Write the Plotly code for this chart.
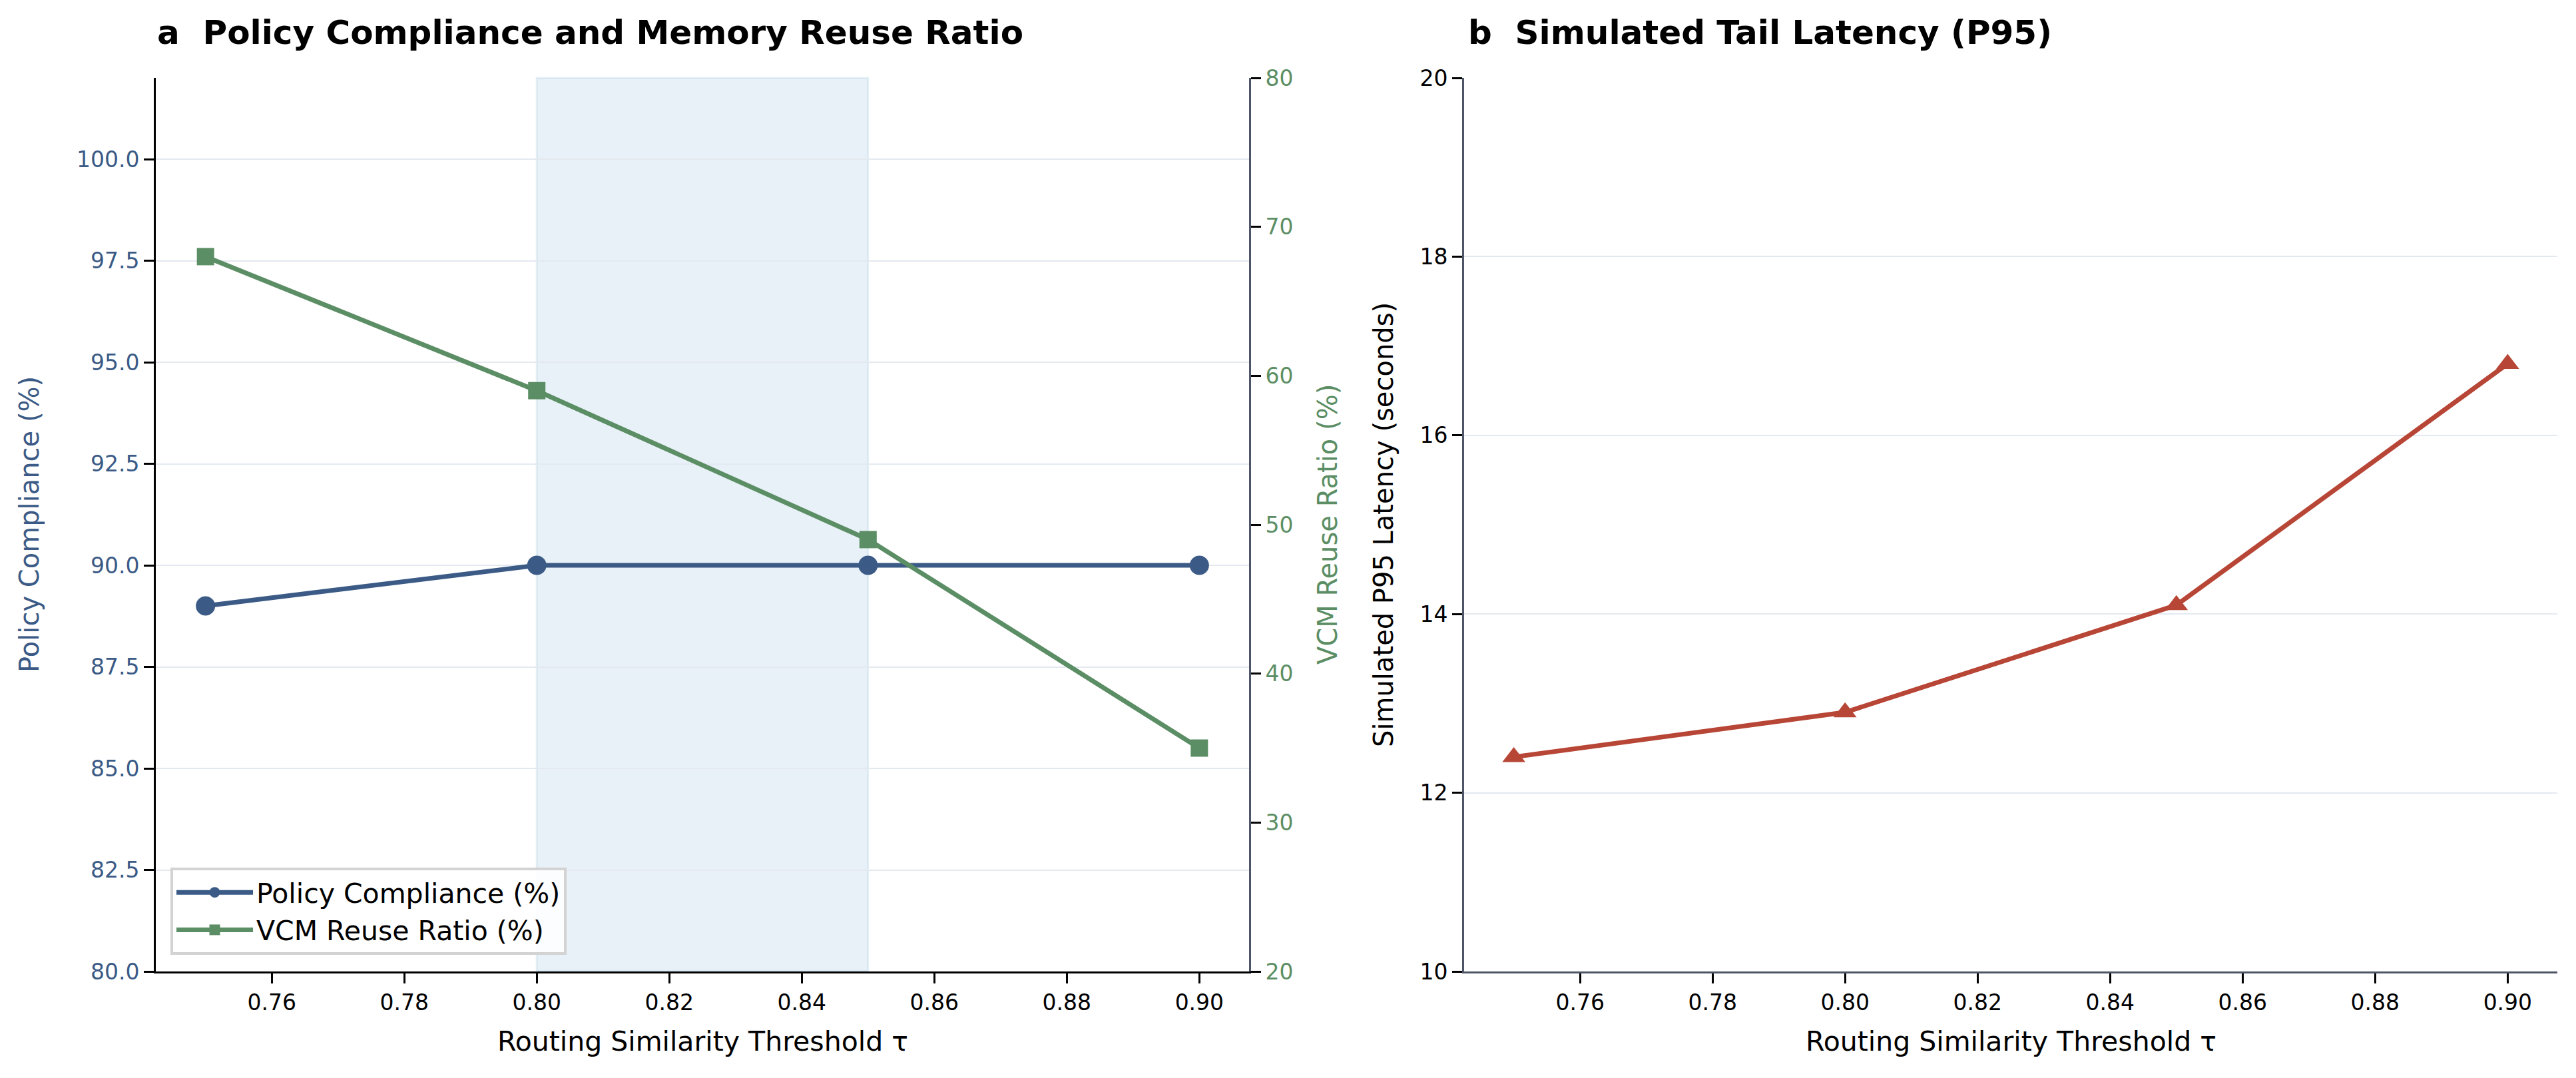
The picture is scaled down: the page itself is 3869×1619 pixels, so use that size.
import plotly.graph_objects as go

# ---- data ----
thresholds = [0.75, 0.80, 0.85, 0.90]
policy_compliance = [89.0, 90.0, 90.0, 90.0]
vcm_reuse = [68.0, 59.0, 49.0, 35.0]
p95_latency = [12.4, 12.9, 14.1, 16.8]
band = [0.80, 0.85]

BLUE = "#3b5b86"
GREEN = "#5b8e64"
RED = "#b84636"
SLATE = "#4d5566"
GRID = "#e4e9f0"
FONT = "DejaVu Sans"

W, H = 3869, 1619
def px_x(v):
    return v / W
def px_y(v):
    return (H - v) / H

L1, R1 = px_x(234), px_x(1876)
L2, R2 = px_x(2199), px_x(3841)
BOT, TOP = px_y(1459), px_y(117)

fig = go.Figure()

fig.add_trace(go.Scatter(
    x=thresholds, y=policy_compliance, name="Policy Compliance (%)",
    mode="lines+markers", line=dict(color=BLUE, width=7),
    marker=dict(symbol="circle", size=29, color=BLUE),
    xaxis="x", yaxis="y"))
fig.add_trace(go.Scatter(
    x=thresholds, y=vcm_reuse, name="VCM Reuse Ratio (%)",
    mode="lines+markers", line=dict(color=GREEN, width=7),
    marker=dict(symbol="square", size=26, color=GREEN),
    xaxis="x", yaxis="y2"))
fig.add_trace(go.Scatter(
    x=thresholds, y=p95_latency, name="P95",
    mode="lines+markers", line=dict(color=RED, width=7),
    marker=dict(symbol="triangle-up", size=30, color=RED),
    xaxis="x2", yaxis="y3", showlegend=False))

fig.add_shape(type="rect", xref="x", yref="y domain",
              x0=band[0], x1=band[1], y0=0, y1=1,
              fillcolor="rgba(31,119,180,0.10)",
              line=dict(color="rgba(31,119,180,0.10)", width=3),
              layer="below")

tickfont = dict(family=FONT, size=33, color="black")
common_x = dict(range=[0.7425, 0.9075], tick0=0.76, dtick=0.02, tickformat=".2f",
                ticks="outside", ticklen=15, tickwidth=3, tickcolor="black",
                showgrid=False, zeroline=False, showline=True, linewidth=3,
                tickfont=tickfont, automargin=False)

fig.update_layout(
    width=W, height=H,
    margin=dict(l=0, r=0, t=0, b=0),
    paper_bgcolor="white", plot_bgcolor="white",
    font=dict(family=FONT, size=33, color="black"),
    xaxis=dict(domain=[L1, R1], anchor="y", linecolor="black", **common_x),
    yaxis=dict(domain=[BOT, TOP], anchor="x", range=[80, 102], tick0=80, dtick=2.5,
               tickformat=".1f", ticks="outside", ticklen=15, tickwidth=3,
               tickcolor="black", showline=True, linecolor="black", linewidth=3,
               showgrid=True, gridcolor=GRID, gridwidth=2, zeroline=False,
               tickfont=dict(family=FONT, size=33, color=BLUE), automargin=False),
    yaxis2=dict(overlaying="y", side="right", anchor="x", range=[20, 80], tick0=20,
                dtick=10, ticks="outside", ticklen=15, tickwidth=3, tickcolor="black",
                showline=True, linecolor=SLATE, linewidth=3, showgrid=False,
                zeroline=False, tickfont=dict(family=FONT, size=33, color=GREEN),
                automargin=False),
    xaxis2=dict(domain=[L2, R2], anchor="y3", linecolor=SLATE, **common_x),
    yaxis3=dict(domain=[BOT, TOP], anchor="x2", range=[10, 20], tick0=10, dtick=2,
                ticks="outside", ticklen=15, tickwidth=3, tickcolor="black",
                showline=True, linecolor=SLATE, linewidth=3, showgrid=True,
                gridcolor=GRID, gridwidth=2, zeroline=False, tickfont=tickfont,
                automargin=False),
    legend=dict(x=px_x(256), y=px_y(1303), xanchor="left", yanchor="top",
                bgcolor="rgba(255,255,255,0.85)", bordercolor="#d3d3d3", borderwidth=4,
                font=dict(family=FONT, size=41, color="black"),
                itemwidth=115, tracegroupgap=0),
    showlegend=True,
)

ann = []
ann.append(dict(text="<b>a\u00a0 Policy Compliance and Memory Reuse Ratio</b>",
                x=L1, y=px_y(49), xref="paper", yref="paper", xanchor="left",
                yanchor="middle", showarrow=False,
                font=dict(family=FONT, size=50, color="black")))
ann.append(dict(text="<b>b\u00a0 Simulated Tail Latency (P95)</b>",
                x=px_x(2203), y=px_y(49), xref="paper", yref="paper", xanchor="left",
                yanchor="middle", showarrow=False,
                font=dict(family=FONT, size=50, color="black")))
for xc in [(L1 + R1) / 2, (L2 + R2) / 2]:
    ann.append(dict(text="Routing Similarity Threshold τ", x=xc, y=px_y(1564),
                    xref="paper", yref="paper", xanchor="center", yanchor="middle",
                    showarrow=False, font=dict(family=FONT, size=41, color="black")))
ycen = px_y((117 + 1459) / 2)
ann.append(dict(text="Policy Compliance (%)", x=px_x(44), y=ycen, xref="paper",
                yref="paper", textangle=-90, xanchor="center", yanchor="middle",
                showarrow=False, font=dict(family=FONT, size=40, color=BLUE)))
ann.append(dict(text="VCM Reuse Ratio (%)", x=px_x(1994), y=ycen, xref="paper",
                yref="paper", textangle=-90, xanchor="center", yanchor="middle",
                showarrow=False, font=dict(family=FONT, size=40, color=GREEN)))
ann.append(dict(text="Simulated P95 Latency (seconds)", x=px_x(2078), y=ycen,
                xref="paper", yref="paper", textangle=-90, xanchor="center",
                yanchor="middle", showarrow=False,
                font=dict(family=FONT, size=40, color="black")))
fig.update_layout(annotations=ann)

fig.write_html("out.html")
